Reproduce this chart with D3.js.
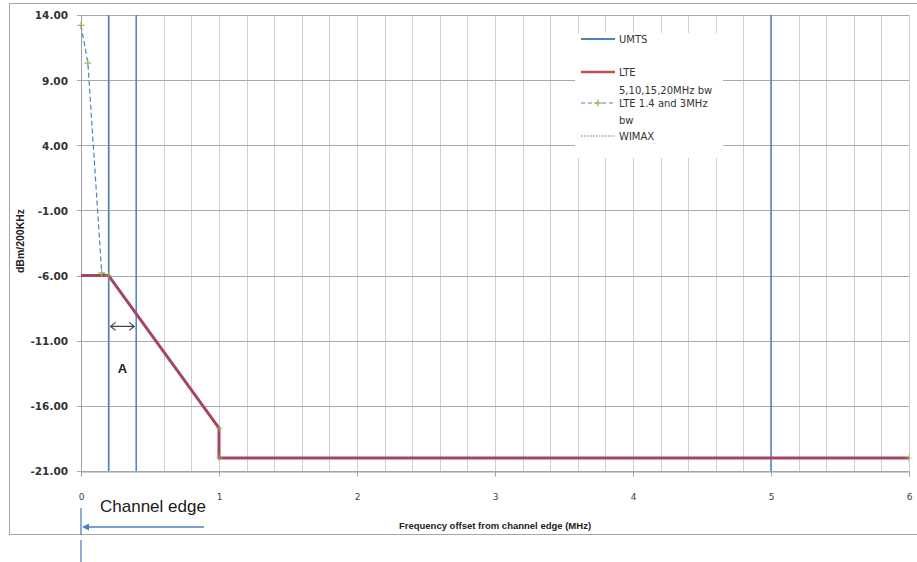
<!DOCTYPE html>
<html>
<head>
<meta charset="utf-8">
<script src="https://cdn.jsdelivr.net/npm/d3@7"></script>
<style>
  html, body { margin: 0; padding: 0; background: #fff; }
  svg { display: block; }
</style>
</head>
<body>
<svg id="chart" width="917" height="562"></svg>
<script>
// ---- data ----
const xTicks = [0, 1, 2, 3, 4, 5, 6];
const yTicks = [14, 9, 4, -1, -6, -11, -16, -21];
const umtsX = [0.2, 0.4, 5];                       // UMTS vertical markers
const lteX = [0, 0.2, 1, 1, 6];
const lteY = [-6, -6, -17.7, -20, -20];
const lte14X = [0, 0.05, 0.15, 0.2, 1, 1, 6];
const lte14Y = [13.2, 10.3, -5.8, -6, -17.7, -20, -20];
const legendLabels = ["UMTS", "LTE", "5,10,15,20MHz bw", "LTE 1.4 and 3MHz", "bw", "WIMAX"];
const annotA = { x0: 0.2, x1: 0.4, y: -9.9, label: "A" };

// ---- layout ----
const svg = d3.select("#chart");
const x = d3.scaleLinear().domain([0, 6]).range([81, 909]);
const y = d3.scaleLinear().domain([-21, 14]).range([471, 15]);
const blue = "#4f81bd";

// outer border
svg.append("rect").attr("x", 9.5).attr("y", 3.5).attr("width", 912).attr("height", 531)
  .attr("fill", "#fff").attr("stroke", "#a6a6a6").attr("stroke-width", 1);

// vertical grid every 0.2
const vGrid = d3.range(1, 31).map(i => i * 0.2);
svg.append("g").selectAll("line").data(vGrid).join("line")
  .attr("x1", d => Math.round(x(d)) + 0.5).attr("x2", d => Math.round(x(d)) + 0.5)
  .attr("y1", y(14)).attr("y2", y(-21))
  .attr("stroke", "#cfcfcf").attr("stroke-width", 1);

// horizontal grid
svg.append("g").selectAll("line").data(yTicks).join("line")
  .attr("x1", x(0) - 4).attr("x2", x(6))
  .attr("y1", d => Math.round(y(d)) + 0.5).attr("y2", d => Math.round(y(d)) + 0.5)
  .attr("stroke", "#a9a9a9").attr("stroke-width", 1);

// y axis line
svg.append("line").attr("x1", x(0) + 0.5).attr("x2", x(0) + 0.5)
  .attr("y1", y(14)).attr("y2", y(-21) + 4).attr("stroke", "#a0a0a0");

// x axis ticks
const xAxis = d3.axisBottom(x).tickValues(xTicks).tickSize(5).tickFormat(d3.format("d"));
const gx = svg.append("g").attr("transform", `translate(0,${Math.round(y(-21)) + 0.5})`).call(xAxis);
gx.select(".domain").attr("stroke", "#a0a0a0");
gx.selectAll(".tick line").attr("stroke", "#a0a0a0");
gx.selectAll(".tick text").attr("dy", 0).attr("y", 28)
  .attr("font-family", "DejaVu Sans").attr("font-size", 9).attr("fill", "#404040");

// y labels
const fmt2 = d3.format(".2f");
const yAxis = d3.axisLeft(y).tickValues(yTicks).tickSize(0).tickPadding(13)
  .tickFormat(d => fmt2(d).replace("\u2212", "-"));
const gy = svg.append("g").attr("transform", `translate(${x(0)},0.5)`).call(yAxis);
gy.select(".domain").remove();
gy.selectAll(".tick text").attr("font-family", "DejaVu Sans").attr("font-size", 10.5)
  .attr("fill", "#333").attr("font-weight", "bold");

// legend background (hides grid)
svg.append("rect").attr("x", 575).attr("y", 33).attr("width", 148).attr("height", 125).attr("fill", "#fff");

// UMTS vertical lines
svg.append("g").selectAll("line").data(umtsX).join("line")
  .attr("x1", d => x(d)).attr("x2", d => x(d))
  .attr("y1", y(14)).attr("y2", y(-21))
  .attr("stroke", blue).attr("stroke-width", 1.5);

// LTE 1.4/3 MHz dashed
const lte14 = lte14X.map((v, i) => [v, lte14Y[i]]);
const line = d3.line().x(d => x(d[0])).y(d => y(d[1]));
svg.append("path").datum(lte14).attr("d", line).attr("fill", "none")
  .attr("stroke", blue).attr("stroke-width", 1.2).attr("stroke-dasharray", "5,3");

// LTE solid
const lte = lteX.map((v, i) => [v, lteY[i]]);
svg.append("path").datum(lte).attr("d", line).attr("fill", "none")
  .attr("stroke", "#a3475f").attr("stroke-width", 3).attr("stroke-linejoin", "round");

// markers
svg.append("g").selectAll("path").data(lte14).join("path")
  .attr("d", "M-3.5,0H3.5M0,-3.5V3.5")
  .attr("transform", d => `translate(${x(d[0])},${y(d[1])})`)
  .attr("stroke", "#9bbb59").attr("stroke-width", 1.3)
  .attr("opacity", (d, i) => i < 3 ? 1 : 0.55);

// legend
const lg = svg.append("g").attr("font-family", "DejaVu Sans").attr("font-size", 10).attr("fill", "#333");
const lx0 = 581, lx1 = 615, tx = 619;
lg.append("line").attr("x1", lx0).attr("x2", lx1).attr("y1", 39).attr("y2", 39).attr("stroke", blue).attr("stroke-width", 2);
lg.append("line").attr("x1", lx0).attr("x2", lx1).attr("y1", 72).attr("y2", 72).attr("stroke", "#c0504d").attr("stroke-width", 2.5);
lg.append("line").attr("x1", lx0).attr("x2", lx1).attr("y1", 103).attr("y2", 103).attr("stroke", blue).attr("stroke-width", 1.2).attr("stroke-dasharray", "4,3");
lg.append("path").attr("d", `M${(lx0 + lx1) / 2 - 3.5},103H${(lx0 + lx1) / 2 + 3.5}M${(lx0 + lx1) / 2},99.5V106.5`).attr("stroke", "#9bbb59").attr("stroke-width", 1.3);
lg.append("line").attr("x1", lx0).attr("x2", lx1).attr("y1", 136).attr("y2", 136).attr("stroke", "#8064a2").attr("stroke-width", 1.2).attr("stroke-dasharray", "1.5,1.5");
const lyPos = [39, 72, 90, 103, 120, 136];
lg.selectAll("text").data(legendLabels).join("text")
  .attr("x", tx).attr("y", (d, i) => lyPos[i]).attr("dy", "0.35em").text(d => d);

// annotation A
const ay = y(annotA.y);
const ax0 = x(annotA.x0) + 2, ax1 = x(annotA.x1) - 2;
svg.append("path")
  .attr("d", `M${ax0},${ay}H${ax1}M${ax0 + 5},${ay - 4}L${ax0},${ay}L${ax0 + 5},${ay + 4}M${ax1 - 5},${ay - 4}L${ax1},${ay}L${ax1 - 5},${ay + 4}`)
  .attr("fill", "none").attr("stroke", "#444").attr("stroke-width", 1.2);
svg.append("text").attr("x", (x(annotA.x0) + x(annotA.x1)) / 2).attr("y", 373)
  .attr("text-anchor", "middle").attr("font-family", "Liberation Sans").attr("font-weight", "bold")
  .attr("font-size", 13).attr("fill", "#222").text(annotA.label);

// axis titles
svg.append("text").attr("x", 495).attr("y", 529).attr("text-anchor", "middle")
  .attr("font-family", "Liberation Sans").attr("font-weight", "bold").attr("font-size", 9.5).attr("fill", "#222")
  .text("Frequency offset from channel edge (MHz)");
svg.append("text").attr("transform", "translate(24,241) rotate(-90)").attr("text-anchor", "middle")
  .attr("font-family", "Liberation Sans").attr("font-weight", "bold").attr("font-size", 10.5).attr("fill", "#222")
  .text("dBm/200KHz");

// channel edge annotation
svg.append("text").attr("x", 100).attr("y", 512)
  .attr("font-family", "Liberation Sans").attr("font-size", 17).attr("fill", "#1a1a1a").text("Channel edge");
svg.append("line").attr("x1", x(0) + 6).attr("x2", 204).attr("y1", 527).attr("y2", 527)
  .attr("stroke", blue).attr("stroke-width", 1.3);
svg.append("path").attr("d", `M${x(0) + 1},527L${x(0) + 8},523.5L${x(0) + 8},530.5Z`).attr("fill", blue);
svg.append("line").attr("x1", x(0)).attr("x2", x(0)).attr("y1", 508).attr("y2", 535)
  .attr("stroke", blue).attr("stroke-width", 1.3);
svg.append("line").attr("x1", x(0)).attr("x2", x(0)).attr("y1", 540).attr("y2", 562)
  .attr("stroke", blue).attr("stroke-width", 1.3);
</script>
</body>
</html>
